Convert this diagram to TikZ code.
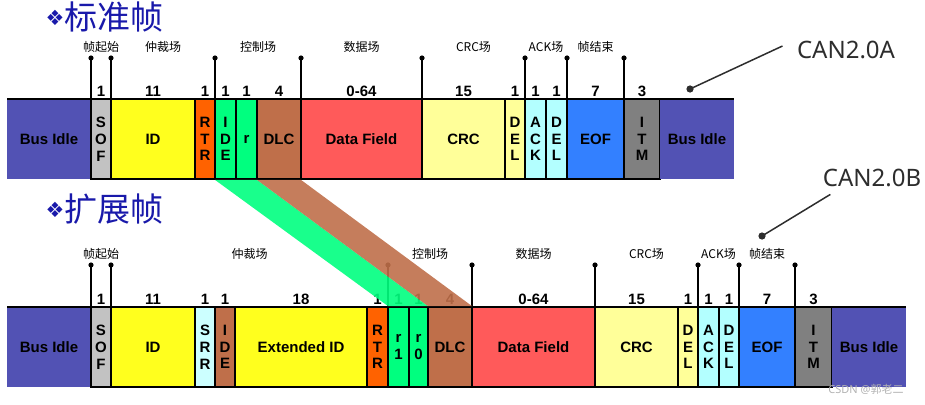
\documentclass[tikz,border=0pt]{standalone}
\usepackage{fontspec}
\setmainfont{Liberation Sans}
\newfontfamily\cjk{Noto Sans CJK SC}
\newfontfamily\symf{DejaVu Sans}
\newfontfamily\labf{Noto Sans}
\usetikzlibrary{positioning,calc}
\definecolor{busblue}{RGB}{82,82,180}
\definecolor{sofgray}{RGB}{194,194,194}
\definecolor{idyellow}{RGB}{255,255,30}
\definecolor{rtrorange}{RGB}{255,98,0}
\definecolor{rgreen}{RGB}{0,255,127}
\definecolor{dlcbrown}{RGB}{191,111,74}
\definecolor{datared}{RGB}{255,90,90}
\definecolor{crcyellow}{RGB}{255,255,153}
\definecolor{ackcyan}{RGB}{179,255,255}
\definecolor{srrcyan}{RGB}{204,255,255}
\definecolor{eofblue}{RGB}{51,128,255}
\definecolor{itmgray}{RGB}{128,128,128}
\definecolor{titleblue}{RGB}{25,25,170}
\definecolor{cangray}{RGB}{45,45,45}

\begin{document}
\begin{tikzpicture}[x=1pt, y=-1pt, font=\bfseries\fontsize{15}{16.8}\selectfont,
  fld/.style={draw=black, line width=1.8pt, minimum height=80pt, inner sep=0pt, outer sep=0pt, align=center},
  idle/.style={fill=busblue, minimum height=80pt, inner sep=0pt, outer sep=0pt},
  edge/.style={line width=1.8pt},
  num/.style={inner sep=2pt},
  tick/.style={line width=1.2pt},
  fldname/.style={font=\cjk\fontsize{12}{12}\selectfont, inner sep=1pt},
  title/.style={anchor=west, text=titleblue, font=\cjk\fontsize{33}{33}\selectfont},
  canname/.style={text=cangray, font=\labf\fontsize{24}{24}\selectfont}]
  \useasboundingbox (0,0) rectangle (925,404);

  % titles
  \node[title] (titleA) at (42,17) {\raisebox{4pt}{\symf\fontsize{21}{21}\selectfont ❖}标准帧};
  \node[title] (titleB) at (42,209) {\raisebox{4pt}{\symf\fontsize{21}{21}\selectfont ❖}扩展帧};

  % standard frame
  \node[idle, minimum width=84pt, anchor=north west] (busA) at (7,99) {Bus Idle};
  \node[fld, fill=sofgray,   minimum width=20pt,  right=0pt of busA] (sofA)  {S\\O\\F};
  \node[fld, fill=idyellow,  minimum width=84pt,  right=0pt of sofA] (idA)   {ID};
  \node[fld, fill=rtrorange, minimum width=20pt,  right=0pt of idA]  (rtrA)  {R\\T\\R};
  \node[fld, fill=rgreen,    minimum width=21pt,  right=0pt of rtrA] (ideA)  {I\\D\\E};
  \node[fld, fill=rgreen,    minimum width=21pt,  right=0pt of ideA] (rA)    {r};
  \node[fld, fill=dlcbrown,  minimum width=44pt,  right=0pt of rA]   (dlcA)  {DLC};
  \node[fld, fill=datared,   minimum width=121pt, right=0pt of dlcA] (dataA) {Data Field};
  \node[fld, fill=crcyellow, minimum width=83pt,  right=0pt of dataA] (crcA) {CRC};
  \node[fld, fill=crcyellow, minimum width=20pt,  right=0pt of crcA] (delA)  {D\\E\\L};
  \node[fld, fill=ackcyan,   minimum width=21pt,  right=0pt of delA] (ackA)  {A\\C\\K};
  \node[fld, fill=ackcyan,   minimum width=21pt,  right=0pt of ackA] (delbA) {D\\E\\L};
  \node[fld, fill=eofblue,   minimum width=57pt,  right=0pt of delbA] (eofA) {EOF};
  \node[fld, fill=itmgray,   minimum width=36pt,  right=0pt of eofA] (itmA)  {I\\T\\M};
  \node[idle, minimum width=74pt, right=0pt of itmA] (busAr) {Bus Idle};
  \draw[edge] (busA.north west) -- (busA.north east);
  \draw[edge] (busAr.north west) -- (busAr.north east);

  % bit counts
  \node[num, above=0pt of sofA]  (nsofA)  {1};
  \node[num, above=0pt of idA]   (nidA)   {11};
  \node[num, above=0pt of rtrA]  (nrtrA)  {1};
  \node[num, above=0pt of ideA]  (nideA)  {1};
  \node[num, above=0pt of rA]    (nrA)    {1};
  \node[num, above=0pt of dlcA]  (ndlcA)  {4};
  \node[num, above=0pt of dataA] (ndataA) {0-64};
  \node[num, above=0pt of crcA]  (ncrcA)  {15};
  \node[num, above=0pt of delA]  (ndelA)  {1};
  \node[num, above=0pt of ackA]  (nackA)  {1};
  \node[num, above=0pt of delbA] (ndelbA) {1};
  \node[num, above=0pt of eofA]  (neofA)  {7};
  \node[num, above=0pt of itmA]  (nitmA)  {3};

  % field markers
  \foreach \b/\t in {sofA/tA1, idA/tA2, ideA/tA3, dataA/tA4, crcA/tA5, ackA/tA6, eofA/tA7, itmA/tA8} {
    \coordinate[above=41pt of \b.north west] (\t);
    \draw[tick] (\b.north west) -- (\t);
    \fill (\t) circle (2.6pt);
  }
  \path (tA1) -- (tA2) node[midway, above=4pt, fldname] (lA1) {帧起始};
  \path (tA2) -- (tA3) node[midway, above=4pt, fldname] (lA2) {仲裁场};
  \path (tA3) -- (tA4) node[midway, above=4pt, fldname] (lA3) {控制场};
  \path (tA4) -- (tA5) node[midway, above=4pt, fldname] (lA4) {数据场};
  \path (tA5) -- (tA6) node[midway, above=4pt, fldname] (lA5) {CRC场};
  \path (tA6) -- (tA7) node[midway, above=4pt, fldname] (lA6) {ACK场};
  \path (tA7) -- (tA8) node[midway, above=4pt, fldname] (lA7) {帧结束};

  % extended frame
  \node[idle, minimum width=84pt, anchor=north west] (busB) at (7,307) {Bus Idle};
  \node[fld, fill=sofgray,   minimum width=20pt,  right=0pt of busB] (sofB)  {S\\O\\F};
  \node[fld, fill=idyellow,  minimum width=84pt,  right=0pt of sofB] (idB)   {ID};
  \node[fld, fill=srrcyan,   minimum width=20pt,  right=0pt of idB]  (srrB)  {S\\R\\R};
  \node[fld, fill=dlcbrown,  minimum width=20pt,  right=0pt of srrB] (ideB)  {I\\D\\E};
  \node[fld, fill=idyellow,  minimum width=132pt, right=0pt of ideB] (extB)  {Extended ID};
  \node[fld, fill=rtrorange, minimum width=21pt,  right=0pt of extB] (rtrB)  {R\\T\\R};
  \node[fld, fill=rgreen,    minimum width=21pt,  right=0pt of rtrB] (r1B)   {r\\1};
  \node[fld, fill=rgreen,    minimum width=19pt,  right=0pt of r1B]  (r0B)   {r\\0};
  \node[fld, fill=dlcbrown,  minimum width=44pt,  right=0pt of r0B]  (dlcB)  {DLC};
  \node[fld, fill=datared,   minimum width=123pt, right=0pt of dlcB] (dataB) {Data Field};
  \node[fld, fill=crcyellow, minimum width=83pt,  right=0pt of dataB] (crcB) {CRC};
  \node[fld, fill=crcyellow, minimum width=20pt,  right=0pt of crcB] (delB)  {D\\E\\L};
  \node[fld, fill=ackcyan,   minimum width=21pt,  right=0pt of delB] (ackB)  {A\\C\\K};
  \node[fld, fill=ackcyan,   minimum width=20pt,  right=0pt of ackB] (delbB) {D\\E\\L};
  \node[fld, fill=eofblue,   minimum width=56pt,  right=0pt of delbB] (eofB) {EOF};
  \node[fld, fill=itmgray,   minimum width=37pt,  right=0pt of eofB] (itmB)  {I\\T\\M};
  \node[idle, minimum width=74pt, right=0pt of itmB] (busBr) {Bus Idle};
  \draw[edge] (busB.north west) -- (busB.north east);
  \draw[edge] (busBr.north west) -- (busBr.north east);

  % bit counts
  \node[num, above=0pt of sofB]  (nsofB)  {1};
  \node[num, above=0pt of idB]   (nidB)   {11};
  \node[num, above=0pt of srrB]  (nsrrB)  {1};
  \node[num, above=0pt of ideB]  (nideB)  {1};
  \node[num, above=0pt of extB]  (nextB)  {18};
  \node[num, above=0pt of rtrB]  (nrtrB)  {1};
  \node[num, above=0pt of r1B]   (nr1B)   {1};
  \node[num, above=0pt of r0B]   (nr0B)   {1};
  \node[num, above=0pt of dlcB]  (ndlcB)  {4};
  \node[num, above=0pt of dataB] (ndataB) {0-64};
  \node[num, above=0pt of crcB]  (ncrcB)  {15};
  \node[num, above=0pt of delB]  (ndelB)  {1};
  \node[num, above=0pt of ackB]  (nackB)  {1};
  \node[num, above=0pt of delbB] (ndelbB) {1};
  \node[num, above=0pt of eofB]  (neofB)  {7};
  \node[num, above=0pt of itmB]  (nitmB)  {3};

  % field markers
  \foreach \b/\t in {sofB/tB1, idB/tB2, r1B/tB3, dataB/tB4, crcB/tB5, ackB/tB6, eofB/tB7, itmB/tB8} {
    \coordinate[above=42pt of \b.north west] (\t);
    \draw[tick] (\b.north west) -- (\t);
    \fill (\t) circle (2.6pt);
  }
  \path (tB1) -- (tB2) node[midway, above=4pt, fldname] (lB1) {帧起始};
  \path (tB2) -- (tB3) node[midway, above=4pt, fldname] (lB2) {仲裁场};
  \path (tB3) -- (tB4) node[midway, above=4pt, fldname] (lB3) {控制场};
  \path (tB4) -- (tB5) node[midway, above=4pt, fldname] (lB4) {数据场};
  \path (tB5) -- (tB6) node[midway, above=4pt, fldname] (lB5) {CRC场};
  \path (tB6) -- (tB7) node[midway, above=4pt, fldname] (lB6) {ACK场};
  \path (tB7) -- (tB8) node[midway, above=4pt, fldname] (lB7) {帧结束};

  % bands from standard to extended control field
  \fill[rgreen, fill opacity=0.9] ([yshift=-0.9pt]ideA.south west) -- ([yshift=-0.9pt]rA.south east)
    -- ([yshift=0.9pt]r0B.north east) -- ([yshift=0.9pt]r1B.north west) -- cycle;
  \fill[dlcbrown, fill opacity=0.9] ([yshift=-0.9pt]dlcA.south west) -- ([yshift=-0.9pt]dlcA.south east)
    -- ([yshift=0.9pt]dlcB.north east) -- ([yshift=0.9pt]dlcB.north west) -- cycle;

  % version callouts
  \node[canname] (canA) at (846,50) {CAN2.0A};
  \coordinate (pA) at (690,89);
  \fill[cangray] (pA) circle (3.6pt);
  \draw[cangray, line width=1.5pt] (pA) -- ([xshift=-11pt,yshift=4pt]canA.west);
  \node[canname] (canB) at (872,178) {CAN2.0B};
  \coordinate (pB) at (762,236);
  \fill[cangray] (pB) circle (3.6pt);
  \draw[cangray, line width=1.5pt] (pB) -- ([xshift=11pt,yshift=-4pt]canB.south west);

  % watermark
  \node[text=gray!60, font=\labf\fontsize{11}{11}\selectfont] (mark) at (866,389) {CSDN @{\cjk 郭老二}};
\end{tikzpicture}
\end{document}
